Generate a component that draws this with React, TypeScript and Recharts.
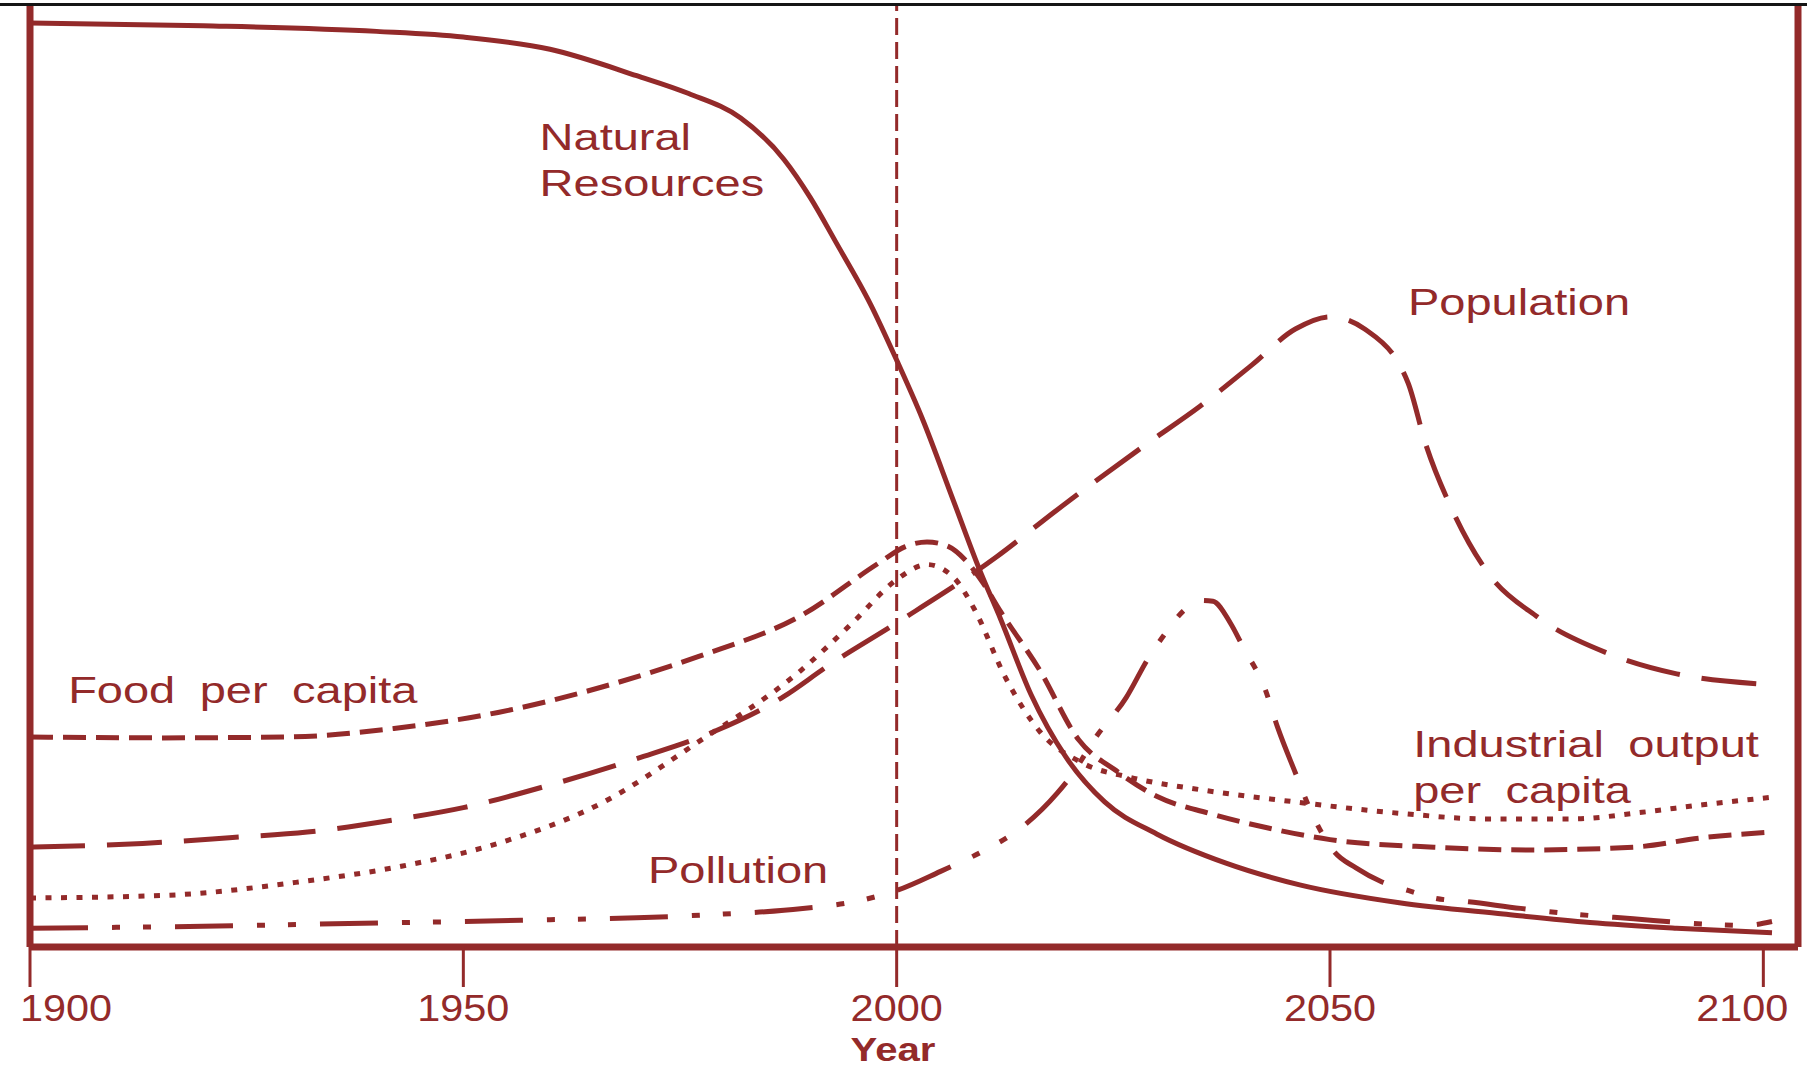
import React from "react";
import { LineChart, Line, XAxis, YAxis, ReferenceLine, ReferenceDot } from "recharts";

const RED = "#932a2a";
const FONT = "'Liberation Sans', Arial, Helvetica, sans-serif";

const yearTicks = [1900, 1950, 2000, 2050, 2100];
const yearRange = [1900, 2104];

// Natural resources (solid)
const resourcesYears = [1900, 1920, 1940, 1950, 1960, 1970, 1976, 1982, 1987, 1990, 1993, 1997, 2000, 2003, 2006.5, 2009.5, 2012, 2015.5, 2019.5, 2024, 2030, 2038, 2046.5, 2058, 2070, 2080, 2090, 2101];
const resourcesValues = [98.1, 97.8, 97.2, 96.6, 95.3, 92.5, 90.6, 88.0, 83.6, 79.6, 74.8, 68.2, 62.3, 56.0, 47.5, 40.2, 34.8, 26.8, 20.2, 15.4, 12.0, 8.9, 6.6, 4.7, 3.5, 2.6, 2.0, 1.5];

// Population (long dash)
const populationYears = [1900, 1913, 1923, 1932, 1942, 1950, 1960, 1970, 1979, 1987, 1992, 2000, 2011.5, 2018.5, 2029, 2035, 2041, 2046, 2050, 2054, 2059, 2061, 2064, 2068, 2074, 2082, 2090, 2100];
const populationValues = [10.6, 11.0, 11.6, 12.2, 13.5, 14.8, 17.2, 20.0, 22.9, 26.6, 29.8, 34.4, 41.4, 46.4, 53.5, 57.4, 61.8, 65.6, 66.9, 65.6, 59.9, 53.5, 46.6, 40.0, 35.0, 31.2, 29.0, 27.9];

// Food per capita (medium dash)
const foodYears = [1900, 1915, 1930, 1942, 1954, 1966, 1977, 1989, 1998, 2001, 2003.5, 2006, 2008, 2010, 2012, 2016.5, 2021, 2025.5, 2030, 2036, 2043, 2050, 2062, 2073, 2085, 2093, 2101];
const foodValues = [22.3, 22.2, 22.3, 23.2, 24.9, 27.6, 30.8, 35.2, 40.8, 42.5, 43.0, 42.5, 41.0, 38.6, 35.6, 29.4, 22.0, 18.6, 16.0, 14.2, 12.6, 11.4, 10.6, 10.3, 10.6, 11.6, 12.2];

// Industrial output per capita (dotted)
const industryYears = [1900, 1916, 1931, 1943, 1954, 1966, 1977, 1989, 1995, 2000, 2003.5, 2006.5, 2009, 2012.5, 2016.5, 2021.5, 2027, 2035, 2046, 2058, 2068, 2078, 2086, 2093, 2101];
const industryValues = [5.2, 5.5, 6.9, 8.6, 11.0, 15.3, 21.7, 29.4, 34.5, 39.0, 40.6, 39.3, 35.8, 28.7, 22.9, 19.5, 18.0, 16.7, 15.4, 14.2, 13.6, 13.6, 14.3, 15.1, 15.9];

// Pollution (dash-dot-dot)
const pollutionYears = [1900, 1920, 1943, 1950, 1960, 1970, 1980, 1987, 1997, 2000, 2005, 2010, 2014, 2018.5, 2020, 2023, 2026.5, 2029, 2031, 2033, 2035, 2036.5, 2038.5, 2040, 2042.5, 2044, 2046, 2048, 2050.5, 2053, 2056, 2059, 2062, 2066, 2072, 2078, 2085, 2092, 2098, 2101];
const pollutionValues = [2.0, 2.2, 2.6, 2.7, 2.9, 3.1, 3.5, 3.9, 5.2, 6.0, 8.0, 10.2, 12.4, 16.3, 18.0, 22.3, 26.5, 30.6, 33.3, 35.6, 36.8, 36.7, 34.4, 31.8, 27.4, 23.2, 18.5, 14.0, 10.1, 8.4, 6.9, 6.0, 5.2, 4.8, 4.1, 3.5, 3.0, 2.5, 2.3, 2.7];

const zip = (years: number[], values: number[]) =>
  years.map((year, i) => ({ year, value: values[i] }));

function YearTick(props: any) {
  const { x, y, payload, index } = props;
  let anchor = "middle";
  let shift = 0;
  // keep the outer labels inside the picture
  if (index === 0) {
    anchor = "start";
    shift = -10;
  } else if (index === yearTicks.length - 1) {
    anchor = "end";
    shift = 25;
  }
  return (
    <text
      transform={`translate(${x + shift},${y}) scale(1.12,1)`}
      textAnchor={anchor}
      dy="0.71em"
      fill={RED}
      fontSize={37}
      fontFamily={FONT}
    >
      {payload.value}
    </text>
  );
}

function AxisTitle({ viewBox }: any) {
  if (!viewBox) return null;
  const cx = viewBox.x + viewBox.width / 2 - 21;
  const base = viewBox.y + viewBox.height - 10;
  return (
    <text
      transform={`translate(${cx},${base}) scale(1.18,1)`}
      textAnchor="middle"
      fill={RED}
      fontSize={34}
      fontWeight="bold"
      fontFamily={FONT}
    >
      Year
    </text>
  );
}

function Note({ viewBox, lines }: any) {
  if (!viewBox) return null;
  return (
    <text
      transform={`translate(${viewBox.x},${viewBox.y}) scale(1.27,1)`}
      fill={RED}
      fontSize={37}
      fontFamily={FONT}
      wordSpacing={9}
    >
      {lines.map((l: string, i: number) => (
        <tspan key={i} x={0} dy={i === 0 ? 0 : 46}>
          {l}
        </tspan>
      ))}
    </text>
  );
}

const frame = { stroke: RED, strokeWidth: 7 };

export default function App() {
  return (
    <div style={{ position: "absolute", left: 0, top: 0, width: 1807, height: 1071, background: "#fff" }}>
      <LineChart width={1807} height={1071} margin={{ top: 5, right: 9, bottom: 0, left: 30 }}>
        <XAxis
          dataKey="year"
          type="number"
          domain={yearRange}
          ticks={yearTicks}
          allowDataOverflow
          height={124}
          tickSize={40}
          tickMargin={8}
          axisLine={frame}
          tickLine={{ stroke: RED, strokeWidth: 3 }}
          tick={<YearTick />}
          label={<AxisTitle />}
        />
        <YAxis hide type="number" domain={[0, 100]} />

        <ReferenceLine x={yearRange[0]} stroke={RED} strokeWidth={7} />
        <ReferenceLine x={yearRange[1]} stroke={RED} strokeWidth={7} />
        <ReferenceLine x={2000} stroke={RED} strokeWidth={3} strokeDasharray="17 7" />

        <Line data={zip(resourcesYears, resourcesValues)} dataKey="value" type="monotone" stroke={RED} strokeWidth={5} dot={false} activeDot={false} isAnimationActive={false} />
        <Line data={zip(populationYears, populationValues)} dataKey="value" type="monotone" stroke={RED} strokeWidth={5} strokeDasharray="55 22" dot={false} activeDot={false} isAnimationActive={false} />
        <Line data={zip(foodYears, foodValues)} dataKey="value" type="monotone" stroke={RED} strokeWidth={5} strokeDasharray="23 10" dot={false} activeDot={false} isAnimationActive={false} />
        <Line data={zip(industryYears, industryValues)} dataKey="value" type="monotone" stroke={RED} strokeWidth={5} strokeDasharray="6 9.5" dot={false} activeDot={false} isAnimationActive={false} />
        <Line data={zip(pollutionYears, pollutionValues)} dataKey="value" type="monotone" stroke={RED} strokeWidth={5} strokeDasharray="58 24 8 23 8 24" dot={false} activeDot={false} isAnimationActive={false} />

        <ReferenceDot x={1958.8} y={84.6} r={0} fill="none" stroke="none" ifOverflow="visible" label={<Note lines={["Natural", "Resources"]} />} />
        <ReferenceDot x={2059.0} y={67.1} r={0} fill="none" stroke="none" ifOverflow="visible" label={<Note lines={["Population"]} />} />
        <ReferenceDot x={1904.4} y={25.9} r={0} fill="none" stroke="none" ifOverflow="visible" label={<Note lines={["Food per capita"]} />} />
        <ReferenceDot x={2059.6} y={20.2} r={0} fill="none" stroke="none" ifOverflow="visible" label={<Note lines={["Industrial output", "per capita"]} />} />
        <ReferenceDot x={1971.3} y={6.8} r={0} fill="none" stroke="none" ifOverflow="visible" label={<Note lines={["Pollution"]} />} />
      </LineChart>
      <div style={{ position: "absolute", left: 0, top: 3, width: 1807, height: 3, background: "#151515" }} />
    </div>
  );
}
